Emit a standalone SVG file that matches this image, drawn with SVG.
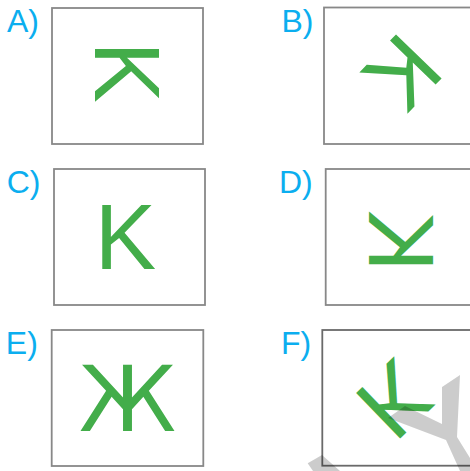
<svg xmlns="http://www.w3.org/2000/svg" width="470" height="471" viewBox="0 0 470 471">
<style>
.lbl{font-family:"Liberation Sans",Arial,sans-serif;font-size:32px;fill:#0baeef}
.box{fill:#fff;stroke:#888;stroke-width:1.8}
.g{font-family:"Liberation Sans",Arial,sans-serif;font-size:92px;fill:#43ad4a;text-anchor:middle}
</style>
<rect width="470" height="471" fill="#fff"/>
<g id="A">
<text class="lbl" x="7" y="31.7">A)</text>
<rect class="box" x="52" y="8" width="151" height="136"/>
<g transform="translate(127.5,75.5) rotate(90)"><text class="g" x="-3.4" y="33">K</text></g>
</g>
<g id="B">
<text class="lbl" x="281.5" y="31.7">B)</text>
<rect class="box" x="324" y="7.5" width="151" height="136.5"/>
<g transform="translate(401.2,76.5) rotate(134)"><text class="g" x="-3.4" y="33">K</text></g>
</g>
<g id="C">
<text class="lbl" x="6.7" y="193.3">C)</text>
<rect class="box" x="54" y="169" width="151" height="136"/>
<g transform="translate(128.8,236.3)"><text class="g" x="-3.4" y="33">K</text></g>
</g>
<g id="D">
<text class="lbl" x="279" y="193.3">D)</text>
<rect class="box" x="325.7" y="169" width="151" height="136"/>
<g transform="translate(401.5,237.7) rotate(90) scale(-1,1)"><text class="g" x="-3.4" y="33">K</text></g>
</g>
<g id="E">
<text class="lbl" x="5.8" y="354.3">E)</text>
<rect class="box" x="51.7" y="330" width="151.6" height="136"/>
<text class="g" x="127.5" y="431" style="font-family:'DejaVu Sans',sans-serif;font-size:90.5px">Ж</text>
</g>
<g id="F">
<text class="lbl" x="281" y="354.3">F)</text>
<rect class="box" x="322.3" y="330" width="151" height="135.7" style="stroke:#6a6a6a"/>
<g transform="translate(398.3,398.4) rotate(136) scale(-1,1)"><text class="g" x="-3.4" y="33">K</text></g>
</g>
<g id="watermark" fill="#000" fill-opacity="0.2">
<polygon points="388,418 405,406 442,424 442,387 460,375 457,437 478,471 460,471 446,440"/>
<polygon points="307.7,463.3 322,455 340,471 313,471"/>
</g>
</svg>
